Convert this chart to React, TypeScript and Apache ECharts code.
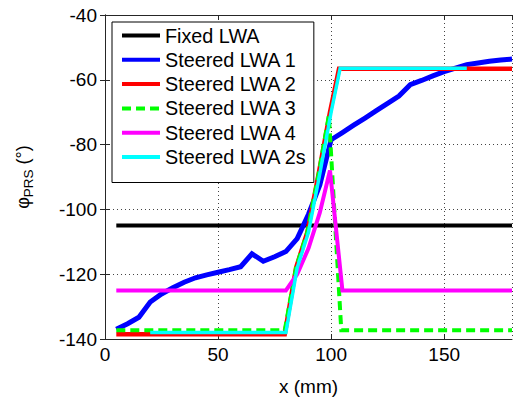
import React, { useEffect, useRef } from 'react';
import * as echarts from 'echarts';

const FONT = '"Liberation Sans", Arial, Helvetica, sans-serif';

const seriesNames = ['Fixed LWA', 'Steered LWA 1', 'Steered LWA 2', 'Steered LWA 3', 'Steered LWA 4', 'Steered LWA 2s'];

const fixedX = [5, 180];
const fixedY = [-105, -105];

const steered1X = [5, 10, 15, 20, 25, 30, 35, 40, 45, 50, 55, 60, 65, 70, 75, 80, 85, 90, 95, 100, 105, 110, 115, 120, 125, 130, 135, 140, 145, 150, 155, 160, 165, 170, 175, 180];
const steered1Y = [-137, -135.3, -133.3, -128.6, -126.1, -124.2, -122.5, -121.1, -120.2, -119.4, -118.6, -117.7, -113.7, -116, -114.6, -113, -109, -101.5, -92.5, -78.5, -76.3, -74, -71.8, -69.5, -67.3, -65, -61.5, -60.2, -58.8, -57.5, -56.4, -55.3, -54.8, -54.3, -53.9, -53.6];

const steered2X = [5, 79.5, 84.5, 89.5, 94.5, 99.5, 103.5, 180];
const steered2Y = [-138.5, -138.5, -118, -107, -89, -70, -56.6, -56.6];

const steered3X = [5, 79.5, 84.5, 89.5, 94.5, 99, 104.5, 180];
const steered3Y = [-137.3, -137.3, -118, -107, -89, -71, -137.3, -137.3];

const steered4X = [5, 80, 85, 90, 95, 99.5, 105, 180];
const steered4Y = [-125, -125, -120, -112, -101, -88, -125, -125];

const steered2sX = [20, 80, 85, 90, 95, 100, 104, 160];
const steered2sY = [-138, -138, -118, -107, -89, -70, -56.4, -56.4];

const xMin = 0;
const xMax = 180;
const xInterval = 50;
const yMin = -140;
const yMax = -40;
const yInterval = 20;

const zip = (xs: number[], ys: number[]) => xs.map((x, i) => [x, ys[i]]);

export default function App() {
  const ref = useRef<HTMLDivElement>(null);

  useEffect(() => {
    if (!ref.current) return;
    const chart = echarts.init(ref.current, undefined, { renderer: 'svg' });

    const mk = (name: string, xs: number[], ys: number[], color: string, width: number, type: any = 'solid') => ({
      name,
      type: 'line',
      data: zip(xs, ys),
      symbol: 'none',
      showSymbol: false,
      lineStyle: { color, width, type, cap: 'butt', join: 'miter' },
      itemStyle: { color },
      xAxisIndex: 0,
      yAxisIndex: 0,
    });

    const axisLineStyle = { color: '#262626', width: 1 };

    chart.setOption({
      animation: false,
      backgroundColor: '#ffffff',
      grid: { left: 105, right: 11, top: 15, bottom: 61, containLabel: false },
      legend: {
        data: seriesNames,
        orient: 'vertical',
        left: 112,
        top: 22,
        padding: [3, 7, 15, 8],
        itemWidth: 38,
        itemHeight: 14,
        itemGap: 3.3,
        borderColor: '#000',
        borderWidth: 1,
        backgroundColor: '#ffffff',
        borderRadius: 0,
        itemStyle: { opacity: 0 },
        lineStyle: { width: 4 },
        textStyle: { fontFamily: FONT, fontSize: 19.8, color: '#000', lineHeight: 21 },
      },
      xAxis: [
        {
          type: 'value',
          min: xMin,
          max: xMax,
          interval: xInterval,
          name: 'x (mm)',
          nameLocation: 'middle',
          nameGap: 38,
          nameTextStyle: { fontFamily: FONT, fontSize: 19, color: '#000' },
          axisLine: { show: true, lineStyle: axisLineStyle },
          axisTick: { show: true, inside: true, length: 5, lineStyle: axisLineStyle },
          axisLabel: { fontFamily: FONT, fontSize: 19, color: '#000', margin: 6, showMaxLabel: false },
          splitLine: { show: true, lineStyle: { color: '#444', width: 1, type: [1, 3] } },
        },
        {
          type: 'value',
          position: 'top',
          min: xMin,
          max: xMax,
          interval: xInterval,
          axisLine: { show: true, lineStyle: axisLineStyle },
          axisTick: { show: true, inside: true, length: 5, lineStyle: axisLineStyle },
          axisLabel: { show: false },
          splitLine: { show: false },
        },
      ],
      yAxis: [
        {
          type: 'value',
          min: yMin,
          max: yMax,
          interval: yInterval,
          name: '{a|φ}{b|PRS}{a| (°)}',
          nameLocation: 'middle',
          nameRotate: 90,
          nameGap: 70,
          nameTextStyle: {
            rich: {
              a: { fontFamily: FONT, fontSize: 18, color: '#000', lineHeight: 24, verticalAlign: 'middle' },
              b: { fontFamily: FONT, fontSize: 13.5, color: '#000', lineHeight: 24, verticalAlign: 'bottom', padding: [8, 0, 0, 0] },
            },
          },
          axisLine: { show: true, lineStyle: axisLineStyle },
          axisTick: { show: true, inside: true, length: 5, lineStyle: axisLineStyle },
          axisLabel: { fontFamily: FONT, fontSize: 19, color: '#000', margin: 8 },
          splitLine: { show: true, lineStyle: { color: '#444', width: 1, type: [1, 3] } },
        },
        {
          type: 'value',
          position: 'right',
          min: yMin,
          max: yMax,
          interval: yInterval,
          axisLine: { show: true, lineStyle: axisLineStyle },
          axisTick: { show: true, inside: true, length: 5, lineStyle: axisLineStyle },
          axisLabel: { show: false },
          splitLine: { show: false },
        },
      ],
      series: [
        mk(seriesNames[0], fixedX, fixedY, '#000000', 4),
        mk(seriesNames[1], steered1X, steered1Y, '#0000ff', 5),
        mk(seriesNames[2], steered2X, steered2Y, '#ff0000', 4.5),
        mk(seriesNames[3], steered3X, steered3Y, '#00ff00', 4, [9, 5]),
        mk(seriesNames[4], steered4X, steered4Y, '#ff00ff', 4),
        mk(seriesNames[5], steered2sX, steered2sY, '#00ffff', 3.5),
      ],
    });

    return () => chart.dispose();
  }, []);

  return (
    <div
      ref={ref}
      style={{ position: 'fixed', left: 0, top: 0, width: 523, height: 401, background: '#fff' }}
    />
  );
}
